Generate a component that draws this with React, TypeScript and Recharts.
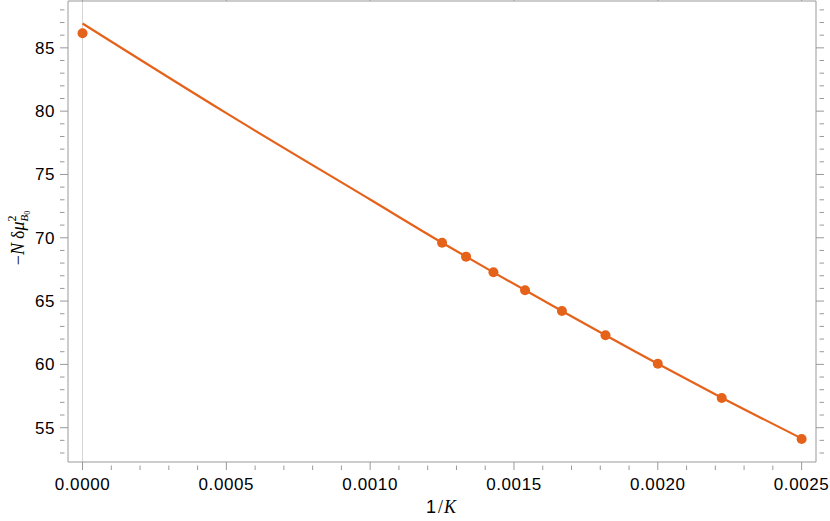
import { ComposedChart, XAxis, YAxis, Scatter, Line, ReferenceLine } from "recharts";

// 1/K values and measured -N δμ² values
const invK = [0, 1 / 800, 1 / 750, 1 / 700, 1 / 650, 1 / 600, 1 / 550, 1 / 500, 1 / 450, 1 / 400];
const muVals = [86.15, 69.61, 68.51, 67.27, 65.85, 64.22, 62.3, 60.05, 57.35, 54.11];

// fit curve
const fitX = [0, 0.0005, 0.001, 1 / 800, 1 / 700, 1 / 600, 1 / 500, 1 / 450, 1 / 400];
const fitY = [86.92, 79.84, 73.02, 69.61, 67.27, 64.22, 60.05, 57.37, 54.15];

const xMajor = [0, 0.0005, 0.001, 0.0015, 0.002, 0.0025];
const xLabels = ["0.0000", "0.0005", "0.0010", "0.0015", "0.0020", "0.0025"];
const xMinor = [0.0001, 0.0002, 0.0003, 0.0004, 0.0006, 0.0007, 0.0008, 0.0009, 0.0011, 0.0012, 0.0013, 0.0014, 0.0016, 0.0017, 0.0018, 0.0019, 0.0021, 0.0022, 0.0023, 0.0024];
const yMajor = [55, 60, 65, 70, 75, 80, 85];
const yMinor = [53, 54, 56, 57, 58, 59, 61, 62, 63, 64, 66, 67, 68, 69, 71, 72, 73, 74, 76, 77, 78, 79, 81, 82, 83, 84, 86, 87, 88];

const ORANGE = "#e5621a";
const FRAME = "#999999";
const SANS = "'Liberation Sans', Arial, sans-serif";
const SERIF = "'Liberation Serif', 'Times New Roman', serif";

const points = invK.map((x, i) => ({ x, y: muVals[i] }));
const fit = fitX.map((x, i) => ({ x, y: fitY[i] }));
const xTicks = [...xMajor, ...xMinor];
const yTicks = [...yMajor, ...yMinor];

const XTick = ({ x, y, payload, top }: any) => {
  const idx = xMajor.indexOf(payload.value);
  const major = idx >= 0;
  const len = major ? 8 : 4.5;
  const dir = top ? 1 : -1;
  return (
    <g>
      <line x1={x} x2={x} y1={y} y2={y + dir * len} stroke={FRAME} strokeWidth={1} />
      {major && !top && (
        <text x={x} y={y + 19.5} textAnchor="middle" fontFamily={SANS} fontSize={17} letterSpacing={0.6} fill="#000">
          {xLabels[idx]}
        </text>
      )}
    </g>
  );
};

const YTick = ({ x, y, payload, right }: any) => {
  const major = yMajor.includes(payload.value);
  const len = major ? 8 : 4.5;
  const dir = right ? -1 : 1;
  return (
    <g>
      <line x1={x} x2={x + dir * len} y1={y} y2={y} stroke={FRAME} strokeWidth={1} />
      {major && !right && (
        <text x={x - 5} y={y + 6} textAnchor="end" fontFamily={SANS} fontSize={17} letterSpacing={0.6} fill="#000">
          {payload.value}
        </text>
      )}
    </g>
  );
};

const App = () => (
  <div style={{ position: "absolute", left: 0, top: 0, background: "#fff" }}>
    <ComposedChart width={830} height={521} margin={{ top: 0, right: 0, bottom: 0, left: 0 }}>
      <XAxis
        xAxisId="b"
        dataKey="x"
        type="number"
        domain={[-0.0000505, 0.00255]}
        allowDataOverflow
        ticks={xTicks}
        interval={0}
        height={59}
        tickLine={false}
        axisLine={{ stroke: FRAME }}
        tick={<XTick />}
      />
      <XAxis
        xAxisId="t"
        orientation="top"
        dataKey="x"
        type="number"
        domain={[-0.0000505, 0.00255]}
        allowDataOverflow
        ticks={xTicks}
        interval={0}
        height={1}
        tickLine={false}
        axisLine={{ stroke: FRAME }}
        tick={<XTick top />}
      />
      <YAxis
        yAxisId="l"
        type="number"
        domain={[52.29, 88.7]}
        allowDataOverflow
        ticks={yTicks}
        interval={0}
        width={68}
        tickLine={false}
        axisLine={{ stroke: FRAME }}
        tick={<YTick />}
      />
      <YAxis
        yAxisId="r"
        orientation="right"
        type="number"
        domain={[52.29, 88.7]}
        allowDataOverflow
        ticks={yTicks}
        interval={0}
        width={14}
        tickLine={false}
        axisLine={{ stroke: FRAME }}
        tick={<YTick right />}
      />
      <ReferenceLine xAxisId="b" yAxisId="l" x={0} stroke="#d6d6d6" strokeWidth={1} />
      <Line
        xAxisId="b"
        yAxisId="l"
        data={fit}
        dataKey="y"
        type="monotone"
        stroke={ORANGE}
        strokeWidth={2.2}
        dot={false}
        isAnimationActive={false}
      />
      <Scatter
        xAxisId="b"
        yAxisId="l"
        data={points}
        dataKey="y"
        fill={ORANGE}
        shape={(p: any) => <circle cx={p.cx} cy={p.cy} r={5} fill={ORANGE} />}
        isAnimationActive={false}
      />
      <text x={441} y={513} textAnchor="middle" fontSize={18} fill="#000">
        <tspan fontFamily={SANS}>1</tspan>
        <tspan fontFamily={SERIF} dx={2}>/</tspan>
        <tspan fontFamily={SERIF} fontStyle="italic" dx={1}>K</tspan>
      </text>
      <text
        x={0}
        y={0}
        transform="translate(24,238) rotate(-90)"
        textAnchor="middle"
        fontFamily={SERIF}
        fontSize={18}
        fill="#000"
      >
        <tspan>−</tspan>
        <tspan fontStyle="italic">N</tspan>
        <tspan dx={4}>δ</tspan>
        <tspan fontStyle="italic">μ</tspan>
        <tspan fontSize={12} dy={-8}>2</tspan>
        <tspan fontSize={11} fontStyle="italic" dx={-6} dy={12}>B</tspan>
        <tspan fontSize={8} dy={2}>0</tspan>
      </text>
    </ComposedChart>
  </div>
);

export default App;
